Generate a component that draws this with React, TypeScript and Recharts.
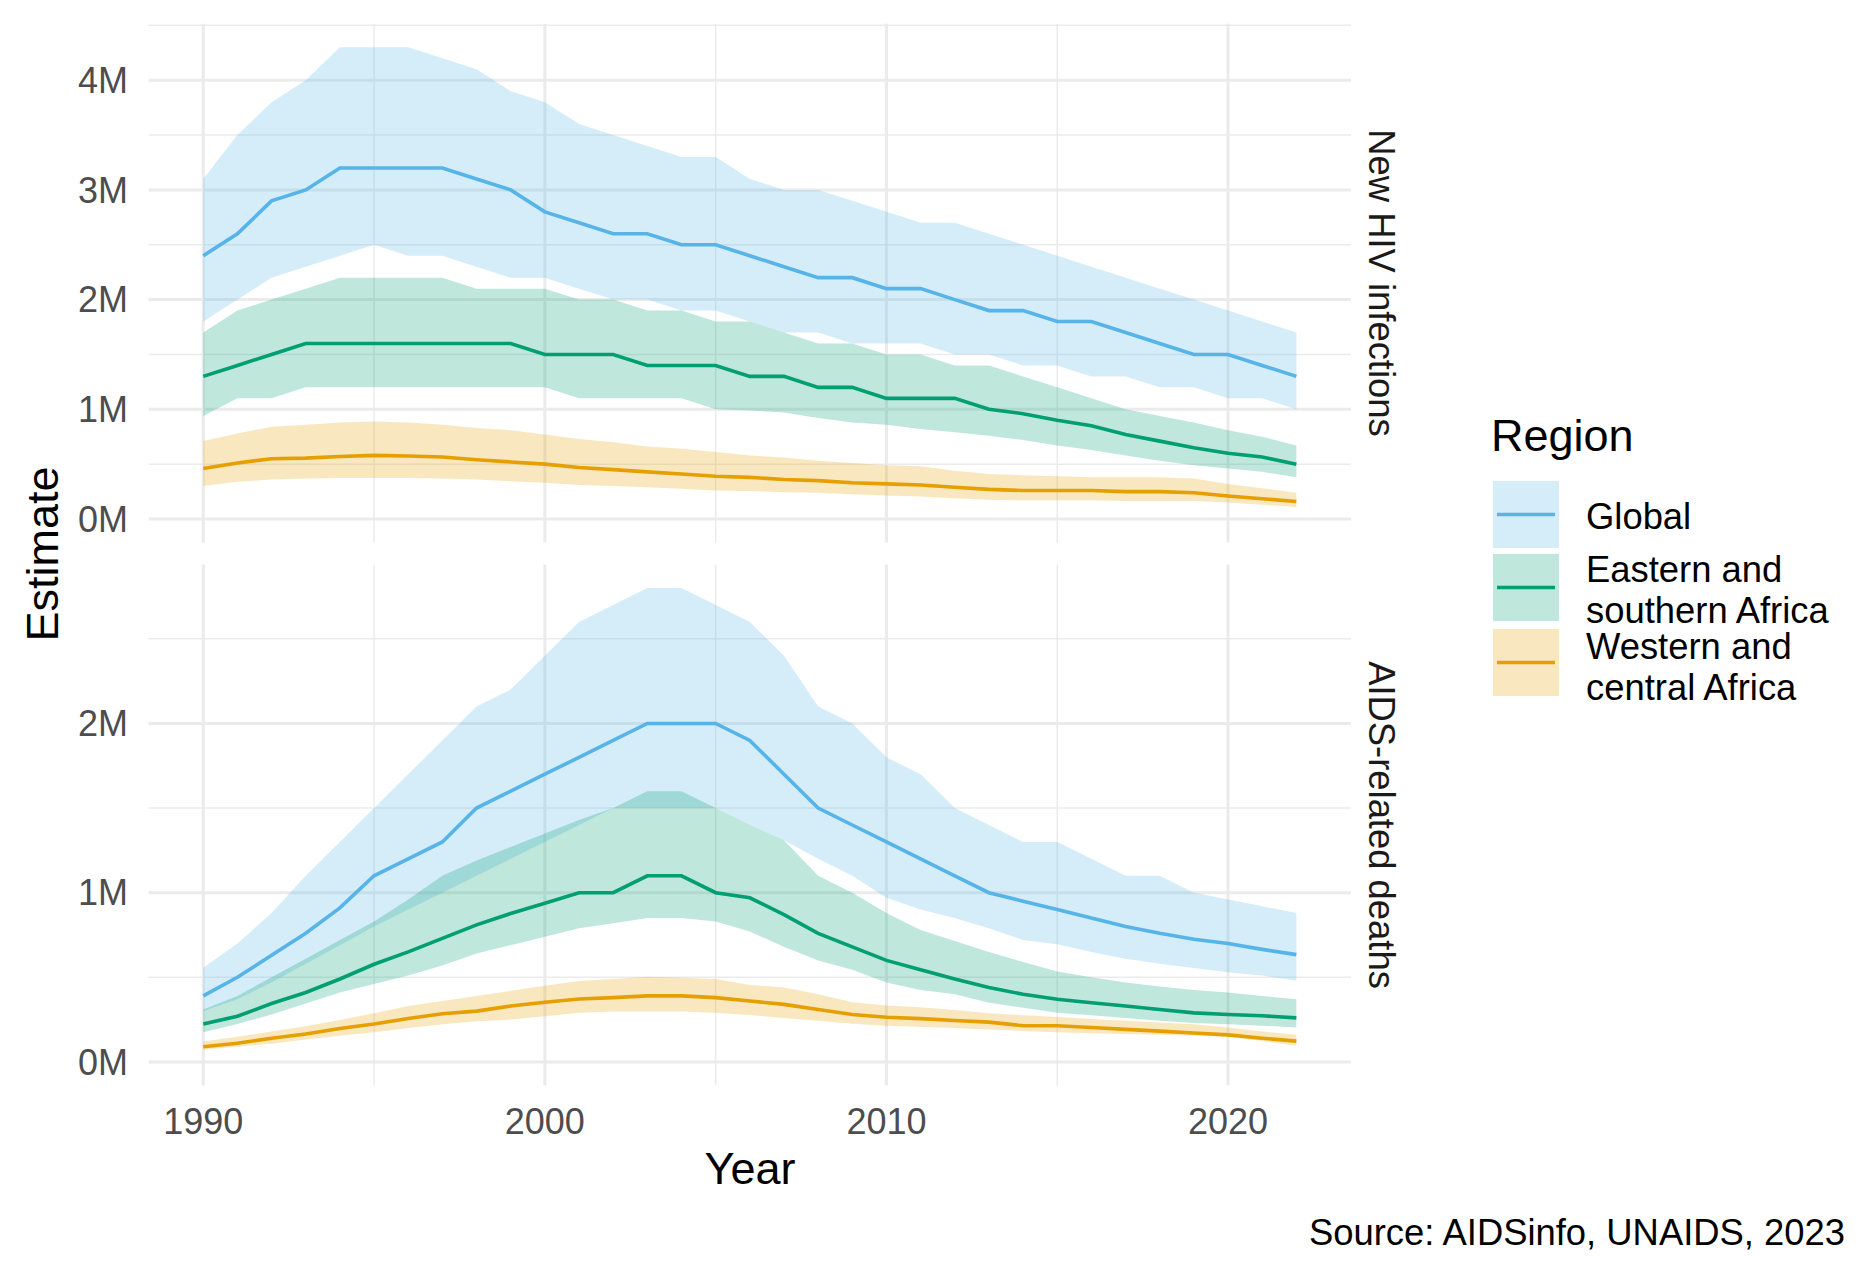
import React from "react";
import { ComposedChart, Area, Line, XAxis, YAxis, CartesianGrid } from "recharts";

// years on the x axis
const years = [
  1990, 1991, 1992, 1993, 1994, 1995, 1996, 1997, 1998, 1999, 2000,
  2001, 2002, 2003, 2004, 2005, 2006, 2007, 2008, 2009, 2010,
  2011, 2012, 2013, 2014, 2015, 2016, 2017, 2018, 2019, 2020, 2021, 2022,
];

// New HIV infections, millions
const infGlobal = [2.4, 2.6, 2.9, 3.0, 3.2, 3.2, 3.2, 3.2, 3.1, 3.0, 2.8, 2.7, 2.6, 2.6, 2.5, 2.5, 2.4, 2.3, 2.2, 2.2, 2.1, 2.1, 2.0, 1.9, 1.9, 1.8, 1.8, 1.7, 1.6, 1.5, 1.5, 1.4, 1.3];
const infGlobalLow = [1.8, 2.0, 2.2, 2.3, 2.4, 2.5, 2.4, 2.4, 2.3, 2.2, 2.2, 2.1, 2.0, 2.0, 1.9, 1.9, 1.8, 1.7, 1.7, 1.6, 1.6, 1.6, 1.5, 1.5, 1.4, 1.4, 1.3, 1.3, 1.2, 1.2, 1.1, 1.1, 1.0];
const infGlobalHigh = [3.1, 3.5, 3.8, 4.0, 4.3, 4.3, 4.3, 4.2, 4.1, 3.9, 3.8, 3.6, 3.5, 3.4, 3.3, 3.3, 3.1, 3.0, 3.0, 2.9, 2.8, 2.7, 2.7, 2.6, 2.5, 2.4, 2.3, 2.2, 2.1, 2.0, 1.9, 1.8, 1.7];
const infEsa = [1.3, 1.4, 1.5, 1.6, 1.6, 1.6, 1.6, 1.6, 1.6, 1.6, 1.5, 1.5, 1.5, 1.4, 1.4, 1.4, 1.3, 1.3, 1.2, 1.2, 1.1, 1.1, 1.1, 1.0, 0.96, 0.9, 0.85, 0.77, 0.71, 0.65, 0.6, 0.565, 0.5];
const infEsaLow = [0.94, 1.1, 1.1, 1.2, 1.2, 1.2, 1.2, 1.2, 1.2, 1.2, 1.2, 1.1, 1.1, 1.1, 1.1, 1.0, 0.99, 0.97, 0.92, 0.88, 0.86, 0.82, 0.79, 0.76, 0.72, 0.67, 0.63, 0.58, 0.53, 0.49, 0.46, 0.43, 0.38];
const infEsaHigh = [1.7, 1.9, 2.0, 2.1, 2.2, 2.2, 2.2, 2.2, 2.1, 2.1, 2.1, 2.0, 2.0, 1.9, 1.9, 1.8, 1.8, 1.7, 1.6, 1.6, 1.5, 1.5, 1.4, 1.4, 1.3, 1.2, 1.1, 1.0, 0.94, 0.88, 0.81, 0.75, 0.67];
const infWca = [0.46, 0.51, 0.55, 0.555, 0.57, 0.58, 0.575, 0.565, 0.54, 0.52, 0.5, 0.47, 0.45, 0.43, 0.41, 0.39, 0.38, 0.36, 0.35, 0.33, 0.32, 0.31, 0.29, 0.27, 0.26, 0.26, 0.26, 0.25, 0.25, 0.24, 0.21, 0.185, 0.16];
const infWcaLow = [0.3, 0.34, 0.36, 0.37, 0.375, 0.375, 0.375, 0.37, 0.36, 0.345, 0.33, 0.31, 0.3, 0.29, 0.275, 0.26, 0.255, 0.245, 0.24, 0.225, 0.215, 0.205, 0.19, 0.175, 0.17, 0.17, 0.17, 0.165, 0.165, 0.165, 0.15, 0.13, 0.11];
const infWcaHigh = [0.71, 0.78, 0.84, 0.86, 0.88, 0.89, 0.88, 0.86, 0.83, 0.81, 0.77, 0.73, 0.7, 0.66, 0.64, 0.61, 0.58, 0.56, 0.53, 0.51, 0.49, 0.48, 0.44, 0.41, 0.4, 0.39, 0.38, 0.38, 0.38, 0.37, 0.32, 0.28, 0.24];

// AIDS-related deaths, millions
const dthGlobal = [0.39, 0.5, 0.63, 0.76, 0.91, 1.1, 1.2, 1.3, 1.5, 1.6, 1.7, 1.8, 1.9, 2.0, 2.0, 2.0, 1.9, 1.7, 1.5, 1.4, 1.3, 1.2, 1.1, 1.0, 0.95, 0.9, 0.85, 0.8, 0.76, 0.725, 0.7, 0.665, 0.634];
const dthGlobalLow = [0.3, 0.37, 0.47, 0.58, 0.69, 0.8, 0.9, 1.0, 1.1, 1.2, 1.3, 1.4, 1.5, 1.5, 1.5, 1.5, 1.4, 1.31, 1.2, 1.1, 0.97, 0.9, 0.85, 0.79, 0.72, 0.695, 0.65, 0.61, 0.58, 0.555, 0.53, 0.51, 0.48];
const dthGlobalHigh = [0.556, 0.7, 0.88, 1.1, 1.3, 1.5, 1.7, 1.9, 2.1, 2.2, 2.4, 2.6, 2.7, 2.8, 2.8, 2.7, 2.6, 2.4, 2.1, 2.0, 1.8, 1.7, 1.5, 1.4, 1.3, 1.3, 1.2, 1.1, 1.1, 1.0, 0.96, 0.92, 0.88];
const dthEsa = [0.224, 0.27, 0.345, 0.41, 0.49, 0.577, 0.65, 0.73, 0.81, 0.877, 0.937, 1.0, 1.0, 1.1, 1.1, 1.0, 0.97, 0.87, 0.76, 0.68, 0.6, 0.545, 0.49, 0.44, 0.4, 0.37, 0.35, 0.33, 0.31, 0.29, 0.28, 0.273, 0.26];
const dthEsaLow = [0.175, 0.224, 0.28, 0.345, 0.41, 0.46, 0.51, 0.57, 0.64, 0.69, 0.74, 0.79, 0.82, 0.85, 0.85, 0.83, 0.77, 0.68, 0.6, 0.545, 0.47, 0.425, 0.4, 0.35, 0.32, 0.29, 0.275, 0.26, 0.243, 0.23, 0.222, 0.214, 0.203];
const dthEsaHigh = [0.31, 0.39, 0.5, 0.61, 0.72, 0.83, 0.96, 1.1, 1.19, 1.27, 1.35, 1.43, 1.5, 1.6, 1.6, 1.5, 1.4, 1.31, 1.1, 1.0, 0.88, 0.78, 0.715, 0.65, 0.59, 0.535, 0.5, 0.47, 0.445, 0.425, 0.41, 0.39, 0.37];
const dthWca = [0.09, 0.11, 0.14, 0.165, 0.197, 0.224, 0.256, 0.285, 0.3, 0.33, 0.353, 0.372, 0.38, 0.39, 0.39, 0.38, 0.36, 0.34, 0.31, 0.28, 0.264, 0.256, 0.245, 0.235, 0.214, 0.214, 0.203, 0.192, 0.182, 0.171, 0.16, 0.14, 0.123];
const dthWcaLow = [0.074, 0.09, 0.108, 0.133, 0.154, 0.175, 0.2, 0.222, 0.24, 0.25, 0.27, 0.29, 0.298, 0.298, 0.298, 0.29, 0.277, 0.26, 0.243, 0.226, 0.214, 0.207, 0.2, 0.192, 0.182, 0.175, 0.17, 0.165, 0.16, 0.154, 0.148, 0.123, 0.095];
const dthWcaHigh = [0.12, 0.148, 0.18, 0.21, 0.247, 0.288, 0.33, 0.36, 0.39, 0.42, 0.45, 0.478, 0.49, 0.503, 0.497, 0.49, 0.455, 0.44, 0.4, 0.353, 0.334, 0.323, 0.307, 0.288, 0.275, 0.266, 0.254, 0.243, 0.233, 0.222, 0.203, 0.18, 0.16];

const regions = ["Global", "Eastern and southern Africa", "Western and central Africa"];
const colors = ["#56B4E9", "#009E73", "#E69F00"];

const xTicks = [1990, 2000, 2010, 2020];
const xMinor = [1995, 2005, 2015];
const infTicks = [0, 1, 2, 3, 4];
const infMinor = [0.5, 1.5, 2.5, 3.5, 4.5];
const dthTicks = [0, 1, 2];
const dthMinor = [0.5, 1.5, 2.5];

const FONT = "'Liberation Sans', Arial, Helvetica, sans-serif";

const infRows = years.map((year, i) => ({
  year,
  s0: infGlobal[i], b0: [infGlobalLow[i], infGlobalHigh[i]],
  s1: infEsa[i], b1: [infEsaLow[i], infEsaHigh[i]],
  s2: infWca[i], b2: [infWcaLow[i], infWcaHigh[i]],
}));

const dthRows = years.map((year, i) => ({
  year,
  s0: dthGlobal[i], b0: [dthGlobalLow[i], dthGlobalHigh[i]],
  s1: dthEsa[i], b1: [dthEsaLow[i], dthEsaHigh[i]],
  s2: dthWca[i], b2: [dthWcaLow[i], dthWcaHigh[i]],
}));

const fmtM = (v: number) => `${v}M`;

function Panel(props: {
  rows: any[];
  domain: [number, number];
  ticks: number[];
  minor: number[];
  showX: boolean;
  height: number;
  margin: { top: number; right: number; bottom: number; left: number };
}) {
  const { rows, domain, ticks, minor, showX, height, margin } = props;
  return (
    <ComposedChart width={1420} height={height} data={rows} margin={margin}>
      <CartesianGrid horizontalValues={minor} verticalValues={xMinor} stroke="#EBEBEB" strokeWidth={1.5} />
      <CartesianGrid horizontalValues={ticks} verticalValues={xTicks} stroke="#EBEBEB" strokeWidth={3} />
      <XAxis
        type="number"
        dataKey="year"
        domain={[1988.4, 2023.6]}
        ticks={xTicks}
        allowDataOverflow
        hide={!showX}
        height={54.4}
        axisLine={false}
        tickLine={false}
        tickSize={0}
        tickMargin={23}
        tick={{ fill: "#4D4D4D", fontSize: 36, fontFamily: FONT }}
      />
      <YAxis
        type="number"
        domain={domain}
        ticks={ticks}
        allowDataOverflow
        width={148.6}
        axisLine={false}
        tickLine={false}
        tickSize={0}
        tickMargin={20.6}
        tickFormatter={fmtM}
        tick={{ fill: "#4D4D4D", fontSize: 36, fontFamily: FONT }}
      />
      {[0, 1, 2].map((k) => (
        <Area
          key={`b${k}`}
          type="linear"
          dataKey={`b${k}`}
          fill={colors[k]}
          fillOpacity={0.25}
          stroke="none"
          isAnimationActive={false}
          dot={false}
          activeDot={false}
        />
      ))}
      {[0, 1, 2].map((k) => (
        <Line
          key={`s${k}`}
          type="linear"
          dataKey={`s${k}`}
          stroke={colors[k]}
          strokeWidth={3.6}
          dot={false}
          activeDot={false}
          isAnimationActive={false}
        />
      ))}
    </ComposedChart>
  );
}

const legendKeys = [
  { top: 481, lines: ["Global"], textY: [516] },
  { top: 554, lines: ["Eastern and", "southern Africa"], textY: [569, 610] },
  { top: 629, lines: ["Western and", "central Africa"], textY: [646, 687] },
];

export default function App() {
  return (
    <div style={{ position: "absolute", left: 0, top: 0, width: 1875, height: 1275, background: "#fff", fontFamily: FONT }}>
      <div style={{ position: "absolute", left: 0, top: 0 }}>
        <Panel
          rows={infRows}
          domain={[-0.215, 4.515]}
          ticks={infTicks}
          minor={infMinor}
          showX={false}
          height={560}
          margin={{ top: 23.7, right: 69, bottom: 17.4, left: 0 }}
        />
      </div>
      <div style={{ position: "absolute", left: 0, top: 540 }}>
        <Panel
          rows={dthRows}
          domain={[-0.14, 2.94]}
          ticks={dthTicks}
          minor={dthMinor}
          showX={true}
          height={660}
          margin={{ top: 24.4, right: 69, bottom: 60, left: 0 }}
        />
      </div>
      <svg width={1875} height={1275} style={{ position: "absolute", left: 0, top: 0, pointerEvents: "none" }}>
        <text x={42} y={554} transform="rotate(-90 42 554)" textAnchor="middle" dominantBaseline="central" fontSize={45} fill="#000" fontFamily={FONT}>
          Estimate
        </text>
        <text x={750} y={1168} textAnchor="middle" dominantBaseline="central" fontSize={45} fill="#000" fontFamily={FONT}>
          Year
        </text>
        <text x={1381} y={283} transform="rotate(90 1381 283)" textAnchor="middle" dominantBaseline="central" fontSize={36.4} fill="#1A1A1A" fontFamily={FONT}>
          New HIV infections
        </text>
        <text x={1381} y={825} transform="rotate(90 1381 825)" textAnchor="middle" dominantBaseline="central" fontSize={36.4} fill="#1A1A1A" fontFamily={FONT}>
          AIDS-related deaths
        </text>
        <text x={1491} y={435} dominantBaseline="central" fontSize={45} fill="#000" fontFamily={FONT}>
          Region
        </text>
        {legendKeys.map((lk, k) => (
          <g key={regions[k]}>
            <rect x={1493} y={lk.top} width={66} height={67} fill={colors[k]} fillOpacity={0.25} />
            <line x1={1497} x2={1555} y1={lk.top + 33.5} y2={lk.top + 33.5} stroke={colors[k]} strokeWidth={3.6} />
            {lk.lines.map((t, j) => (
              <text key={t} x={1586} y={lk.textY[j]} dominantBaseline="central" fontSize={36.4} fill="#000" fontFamily={FONT}>
                {t}
              </text>
            ))}
          </g>
        ))}
        <text x={1845} y={1232} textAnchor="end" dominantBaseline="central" fontSize={36.4} fill="#000" fontFamily={FONT}>
          Source: AIDSinfo, UNAIDS, 2023
        </text>
      </svg>
    </div>
  );
}
